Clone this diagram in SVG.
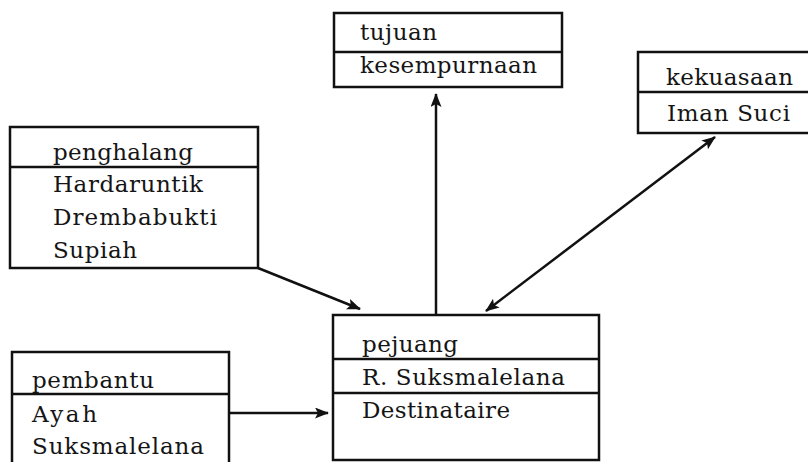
<svg xmlns="http://www.w3.org/2000/svg" width="808" height="462" viewBox="0 0 808 462">
<style>
.box{fill:#fff;stroke:#111;stroke-width:2.5}
.div{stroke:#111;stroke-width:2.5}
.t{font-family:"DejaVu Serif","Liberation Serif",serif;font-size:23px;fill:#151515}
.c{stroke:#111;stroke-width:2.5;fill:none}
</style>
<defs>
<marker id="ah" viewBox="0 0 14 11" refX="13" refY="5.5" markerWidth="14" markerHeight="11" markerUnits="userSpaceOnUse" orient="auto-start-reverse">
<path d="M0,0 L14,5.5 L0,11 L3,5.5 Z" fill="#111"/>
</marker>
</defs>
<rect width="808" height="462" fill="#fff"/>
<g id="connectors">
<line class="c" x1="436" y1="314" x2="436" y2="94" marker-end="url(#ah)"/>
<line class="c" x1="258" y1="268" x2="360" y2="309" marker-end="url(#ah)"/>
<line class="c" x1="229" y1="413" x2="328" y2="413" marker-end="url(#ah)"/>
<line class="c" x1="486" y1="311" x2="715" y2="137" marker-start="url(#ah)" marker-end="url(#ah)"/>
</g>
<g id="tujuan">
<rect class="box" x="334" y="13" width="228" height="74"/>
<line class="div" x1="334" y1="52" x2="562" y2="52"/>
<text class="t" x="360" y="40" textLength="77" lengthAdjust="spacing">tujuan</text>
<text class="t" x="360" y="73" textLength="177" lengthAdjust="spacing">kesempurnaan</text>
</g>
<g id="kekuasaan">
<rect class="box" x="638" y="52" width="180" height="81"/>
<line class="div" x1="638" y1="92" x2="818" y2="92"/>
<text class="t" x="666" y="85" textLength="127" lengthAdjust="spacing">kekuasaan</text>
<text class="t" x="667" y="121" textLength="123" lengthAdjust="spacing">Iman Suci</text>
</g>
<g id="penghalang">
<rect class="box" x="10" y="127" width="248" height="141"/>
<line class="div" x1="10" y1="167" x2="258" y2="167"/>
<text class="t" x="53" y="160" textLength="140" lengthAdjust="spacing">penghalang</text>
<text class="t" x="53" y="192" textLength="150" lengthAdjust="spacing">Hardaruntik</text>
<text class="t" x="53" y="225" textLength="164" lengthAdjust="spacing">Drembabukti</text>
<text class="t" x="53" y="258" textLength="84" lengthAdjust="spacing">Supiah</text>
</g>
<g id="pejuang">
<rect class="box" x="333" y="315" width="266" height="145"/>
<line class="div" x1="333" y1="359" x2="599" y2="359"/>
<line class="div" x1="333" y1="393" x2="599" y2="393"/>
<text class="t" x="362" y="352" textLength="96" lengthAdjust="spacing">pejuang</text>
<text class="t" x="362" y="385" textLength="203" lengthAdjust="spacing">R. Suksmalelana</text>
<text class="t" x="362" y="418" textLength="148" lengthAdjust="spacing">Destinataire</text>
</g>
<g id="pembantu">
<rect class="box" x="12" y="352" width="217" height="120"/>
<line class="div" x1="12" y1="394" x2="229" y2="394"/>
<text class="t" x="32" y="388" textLength="122" lengthAdjust="spacing">pembantu</text>
<text class="t" x="32" y="422" textLength="65" lengthAdjust="spacing">Ayah</text>
<text class="t" x="32" y="454" textLength="172" lengthAdjust="spacing">Suksmalelana</text>
</g>
</svg>
